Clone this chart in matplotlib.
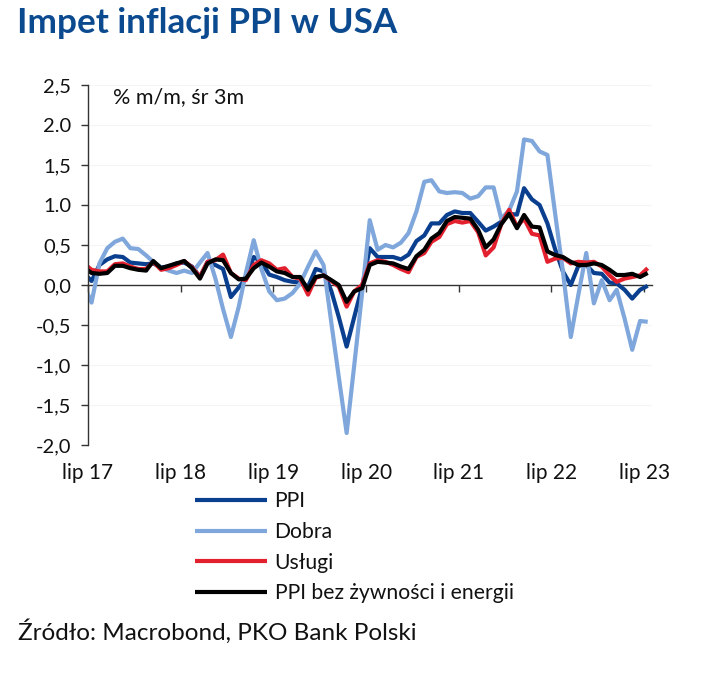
import matplotlib
matplotlib.use("Agg")
import matplotlib.pyplot as plt
import pandas as pd
import numpy as np

# ---- data (Jun 2017 .. Jul 2023, monthly, % m/m 3m avg) ----
start_month = "2017-06-01"
ppi = [0.15, 0.05, 0.25, 0.32, 0.36, 0.35, 0.28, 0.27, 0.26, 0.27, 0.22, 0.23, 0.27,
       0.28, 0.23, 0.10, 0.29, 0.25, 0.20, -0.15, -0.03, 0.08, 0.35, 0.29, 0.13,
       0.10, 0.06, 0.04, 0.03, -0.02, 0.20, 0.17, -0.08, -0.40, -0.77, -0.40, -0.02,
       0.46, 0.35, 0.35, 0.35, 0.32, 0.38, 0.55, 0.62, 0.77, 0.77, 0.875, 0.92,
       0.90, 0.90, 0.79, 0.68, 0.73, 0.79, 0.89, 0.88, 1.21, 1.07, 1.00, 0.77,
       0.45, 0.17, 0.00, 0.24, 0.25, 0.15, 0.14, 0.03, 0.02, -0.06, -0.17, -0.06, -0.01]
dobra = [0.00, -0.22, 0.27, 0.46, 0.54, 0.58, 0.46, 0.45, 0.37, 0.29, 0.22, 0.18, 0.15,
         0.18, 0.15, 0.28, 0.40, 0.08, -0.30, -0.65, -0.27, 0.15, 0.56, 0.20, -0.08,
         -0.19, -0.17, -0.10, 0.02, 0.23, 0.42, 0.25, -0.48, -1.15, -1.85, -1.00, -0.10,
         0.81, 0.44, 0.50, 0.47, 0.53, 0.65, 0.92, 1.29, 1.31, 1.17, 1.15, 1.16,
         1.15, 1.08, 1.11, 1.22, 1.22, 0.83, 0.93, 1.17, 1.82, 1.80, 1.67, 1.625,
         0.90, 0.17, -0.65, -0.12, 0.40, -0.23, 0.06, -0.19, -0.06, -0.42, -0.81, -0.45, -0.46]
uslugi = [0.27, 0.19, 0.17, 0.17, 0.26, 0.27, 0.23, 0.20, 0.20, 0.29, 0.19, 0.21, 0.25,
          0.30, 0.22, 0.10, 0.29, 0.31, 0.38, 0.15, 0.08, 0.06, 0.25, 0.31, 0.27,
          0.19, 0.21, 0.10, 0.08, -0.12, 0.09, 0.12, 0.05, -0.02, -0.27, -0.08, 0.00,
          0.27, 0.31, 0.29, 0.25, 0.20, 0.16, 0.35, 0.40, 0.54, 0.60, 0.76, 0.80,
          0.78, 0.80, 0.66, 0.37, 0.47, 0.76, 0.94, 0.73, 0.83, 0.64, 0.62, 0.29,
          0.33, 0.34, 0.27, 0.29, 0.28, 0.29, 0.23, 0.12, 0.04, 0.08, 0.10, 0.12, 0.21]
core = [0.22, 0.15, 0.14, 0.15, 0.24, 0.24, 0.21, 0.19, 0.18, 0.30, 0.21, 0.24, 0.27,
        0.30, 0.21, 0.08, 0.27, 0.32, 0.31, 0.15, 0.07, 0.08, 0.21, 0.28, 0.23,
        0.17, 0.15, 0.10, 0.10, -0.06, 0.10, 0.12, 0.06, 0.00, -0.21, -0.08, -0.04,
        0.25, 0.29, 0.28, 0.27, 0.23, 0.20, 0.36, 0.44, 0.58, 0.65, 0.80, 0.85,
        0.84, 0.83, 0.69, 0.47, 0.57, 0.76, 0.89, 0.71, 0.875, 0.73, 0.72, 0.42,
        0.375, 0.35, 0.29, 0.25, 0.25, 0.27, 0.25, 0.19, 0.125, 0.125, 0.14, 0.10, 0.15]

series_names = ["PPI", "Dobra", "Usługi", "PPI bez żywności i energii"]
series_colors = ["#0a3f8f", "#7fa7dc", "#e3202e", "#000000"]

y_ticks = [-2.0, -1.5, -1.0, -0.5, 0.0, 0.5, 1.0, 1.5, 2.0, 2.5]
y_ticklabels = ["-2,0", "-1,5", "-1,0", "-0,5", "0,0", "0,5", "1.0", "1,5", "2.0", "2,5"]
x_ticklabels = ["lip 17", "lip 18", "lip 19", "lip 20", "lip 21", "lip 22", "lip 23"]
x_tick_years = [2017, 2018, 2019, 2020, 2021, 2022, 2023]

title = "Impet inflacji PPI w USA"
unit = "% m/m, śr 3m"
source = "Źródło: Macrobond, PKO Bank Polski"

# ---- figure ----
plt.rcParams['font.family'] = ['Lato', 'DejaVu Sans']
W, H = 711, 674
fig = plt.figure(figsize=(W / 100, H / 100), dpi=100)
ax = fig.add_axes([88 / W, 1 - 445 / H, 564 / W, 360 / H])

dates = pd.date_range(start_month, periods=len(ppi), freq="MS") + pd.Timedelta(days=14)
lines = []
for vals, name, col in zip([ppi, dobra, uslugi, core], series_names, series_colors):
    ln, = ax.plot(dates, vals, color=col, lw=3.0, label=name, solid_joinstyle="round",
                  solid_capstyle="butt", clip_on=True)
    lines.append(ln)

ax.set_xlim(pd.Timestamp("2017-07-01"), pd.Timestamp("2023-08-01"))
ax.set_ylim(-2.0, 2.5)

ax.set_yticks(y_ticks)
ax.set_yticklabels(y_ticklabels)
ax.tick_params(axis="y", direction="out", length=5, width=1, color="#333333",
               labelsize=14.5, pad=7, labelcolor="#111111")
for s in ["top", "right"]:
    ax.spines[s].set_visible(False)
ax.spines["left"].set_color("#333333")
ax.spines["left"].set_linewidth(1.0)
ax.spines["bottom"].set_position(("data", 0))
ax.spines["bottom"].set_color("#333333")
ax.spines["bottom"].set_linewidth(1.0)
ax.spines["bottom"].set_zorder(1)

xt = [pd.Timestamp(f"{y}-07-01") for y in x_tick_years]
ax.set_xticks(xt)
ax.tick_params(axis="x", direction="out", length=5, width=1, color="#333333",
               labelbottom=False)

sec = ax.secondary_xaxis("bottom")
sec.set_xticks(xt)
sec.set_xticklabels(x_ticklabels)
sec.tick_params(axis="x", length=0, labelsize=15, pad=13, labelcolor="#111111")
sec.spines["bottom"].set_visible(False)

ax.grid(axis="y", color="#f5f5f5", lw=0.8)
ax.set_axisbelow(True)

ax.text(113 / W, 1 - 97 / H, unit, transform=fig.transFigure, fontsize=15.5,
        va="center", ha="left", color="#111111")

fig.text(17 / W, 1 - 23 / H, title, fontsize=25.3, fontweight="bold",
         color="#0b4a8f", va="center", ha="left")
fig.text(18 / W, 1 - 632 / H, source, fontsize=17.5, color="#111111",
         va="center", ha="left")

leg = fig.legend(handles=lines, labels=series_names, loc="upper left",
                 bbox_to_anchor=(187 / W, 1 - 483 / H), frameon=False,
                 fontsize=15.2, handlelength=3.4, handletextpad=0.35,
                 labelspacing=0.5, borderaxespad=0)
for t in leg.get_texts():
    t.set_color("#111111")

fig.savefig("out.png", dpi=100)
